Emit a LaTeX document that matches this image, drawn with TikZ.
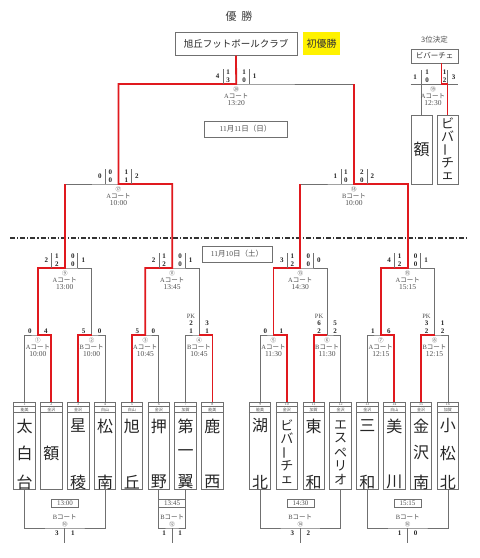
\documentclass[tikz,border=0pt]{standalone}
\usepackage{fontspec}
\usepackage{graphicx}
\setmainfont{Liberation Serif}
\newfontfamily\jp{Noto Sans CJK JP}
\definecolor{lg}{HTML}{707070}
\definecolor{rc}{HTML}{E0191E}
\definecolor{tg}{HTML}{505050}
\newcommand\J[1]{{\jp #1}}
\newcommand\fs[1]{\fontsize{#1}{#1}\selectfont}
\newcommand\bsco[7]{%
 \draw[gl] ([xshift=-13pt]#1) -- ++(0,-15);
 \draw[gl] ([xshift=13pt]#1) -- ++(0,-15);
 \node[sc] (#1lt) at ([xshift=-18.5pt,yshift=8pt]#1) {#2};
 \node[sc] (#1la) at ([xshift=-8pt,yshift=12pt]#1) {#3};
 \node[sc] (#1lb) at ([xshift=-8pt,yshift=4pt]#1) {#4};
 \node[sc] (#1ra) at ([xshift=8pt,yshift=12pt]#1) {#5};
 \node[sc] (#1rb) at ([xshift=8pt,yshift=4pt]#1) {#6};
 \node[sc] (#1rt) at ([xshift=18.5pt,yshift=8pt]#1) {#7};}
\newcommand\rsco[3]{%
 \node[sc] (#1l) at ([xshift=-8pt,yshift=4pt]#1) {#2};
 \node[sc] (#1r) at ([xshift=8pt,yshift=4pt]#1) {#3};}
\newcommand\pksco[5]{%
 \node[lb] (#1p) at ([xshift=-8pt,yshift=19pt]#1) {PK};
 \node[sc] (#1lp) at ([xshift=-8pt,yshift=11.5pt]#1) {#2};
 \node[sc] (#1l) at ([xshift=-8pt,yshift=4pt]#1) {#3};
 \node[sc] (#1rp) at ([xshift=8pt,yshift=11.5pt]#1) {#4};
 \node[sc] (#1r) at ([xshift=8pt,yshift=4pt]#1) {#5};}
\newcommand\jlab[4]{%
 \node[cn] (#1c) at ([yshift=-5pt]#1) {#2};
 \node[lb] (#1k) at ([yshift=-12.5pt]#1) {#3\J{コート}};
 \node[tm] (#1t) at ([yshift=-19.5pt]#1) {#4};}
\begin{document}
\begin{tikzpicture}[x=1pt,y=-1pt,
 gl/.style={draw=lg,line width=0.9pt},
 rl/.style={draw=rc,line width=1.8pt},
 sc/.style={inner sep=0,font=\fs{7}\bfseries,text=black!85},
 lb/.style={inner sep=0,font=\fs{6.5},text=tg},
 tm/.style={inner sep=0,font=\fs{7.5},text=tg},
 cn/.style={inner sep=0,font=\jp\fs{5.5},text=tg},
 teambox/.style={draw=lg,line width=0.8pt,minimum width=21.5pt,minimum height=87pt,inner sep=0},
 nm/.style={inner sep=0,font=\jp\fs{16},text=black!85},
 km/.style={inner sep=0,font=\jp\fs{13},text=black!85},
 tinyn/.style={inner sep=0,font=\fs{4},text=tg},
 tinyj/.style={inner sep=0,font=\jp\fs{4},text=tg},
 tbox/.style={draw=lg,line width=0.8pt,inner sep=0,minimum width=27pt,minimum height=7.5pt,font=\fs{7},text=tg}]
\fill[white] (0,0) rectangle (480,558);
\useasboundingbox (0,0) rectangle (480,558);
% title and champion
\node[inner sep=0,font=\jp\fs{11},text=black!75] (title) at (239,16) {優\hspace{5pt}勝};
\node[draw=lg,line width=1pt,minimum width=122pt,minimum height=23pt,inner sep=0,font=\jp\fs{9.5},text=black!85] (champ) at (236,43.5) {旭丘フットボールクラブ};
\node[fill=yellow,minimum width=37pt,minimum height=23pt,inner sep=0,font=\jp\fs{10},text=black!80] (first) at (321.5,43.5) {初優勝};
% dates
\node[draw=lg,line width=0.8pt,minimum width=83pt,minimum height=16pt,inner sep=0,font=\fs{7.5},text=tg] (D1) at (245.5,129) {11\J{月}11\J{日（日）}};
\node[draw=lg,line width=0.8pt,minimum width=70pt,minimum height=16pt,inner sep=0,font=\fs{7.5},text=tg] (D2) at (237,254) {11\J{月}10\J{日（土）}};
\coordinate (dl) at (10,238);
\coordinate (dr) at (468,238);
\draw[draw=black!80,line width=1.1pt,dash pattern=on 5pt off 2pt on 1.2pt off 2pt] (dl) -- (dr);
% teams
\foreach \i/\rg in {1/能美,2/金沢,3/金沢,4/白山,5/白山,6/金沢,7/加賀,8/能美,9/能美,10/金沢,11/加賀,12/金沢,13/金沢,14/白山,15/金沢,16/加賀}{
 \ifnum\i<9 \pgfmathsetmacro\tx{24.5+26.85*(\i-1)}\else\pgfmathsetmacro\tx{260+26.85*(\i-9)}\fi
 \node[teambox] (T\i) at (\tx,445.8) {};
 \draw[draw=lg,line width=0.6pt] (T\i.north west |- 0,406.7) -- (T\i.north east |- 0,406.7);
 \draw[draw=lg,line width=0.6pt] (T\i.north west |- 0,412.3) -- (T\i.north east |- 0,412.3);
 \node[tinyn] (Tn\i) at (\tx,404.5) {\i};
 \node[tinyj] (Tr\i) at (\tx,409.5) {\rg};
}
\node[nm] (N1a) at (T1.north |- 0,426) {太};
\node[nm] (N1b) at (T1.north |- 0,453) {白};
\node[nm] (N1c) at (T1.north |- 0,482) {台};
\node[nm] (N2a) at (T2.north |- 0,453) {額};
\node[nm] (N3a) at (T3.north |- 0,426) {星};
\node[nm] (N3c) at (T3.north |- 0,482) {稜};
\node[nm] (N4a) at (T4.north |- 0,426) {松};
\node[nm] (N4c) at (T4.north |- 0,482) {南};
\node[nm] (N5a) at (T5.north |- 0,426) {旭};
\node[nm] (N5c) at (T5.north |- 0,482) {丘};
\node[nm] (N6a) at (T6.north |- 0,426) {押};
\node[nm] (N6c) at (T6.north |- 0,482) {野};
\node[nm] (N7a) at (T7.north |- 0,426) {第};
\node[nm] (N7b) at (T7.north |- 0,453) {一};
\node[nm] (N7c) at (T7.north |- 0,482) {翼};
\node[nm] (N8a) at (T8.north |- 0,426) {鹿};
\node[nm] (N8c) at (T8.north |- 0,482) {西};
\node[nm] (N9a) at (T9.north |- 0,426) {湖};
\node[nm] (N9c) at (T9.north |- 0,482) {北};
\node[km] (N10a) at (T10.north |- 0,425) {ビ};
\node[km] (N10b) at (T10.north |- 0,438.5) {バ};
\node[km,rotate=90] (N10c) at (T10.north |- 0,452.5) {ー};
\node[km] (N10d) at (T10.north |- 0,466) {チ};
\node[km] (N10e) at (T10.north |- 0,480) {ェ};
\node[nm] (N11a) at (T11.north |- 0,426) {東};
\node[nm] (N11c) at (T11.north |- 0,482) {和};
\node[km] (N12a) at (T12.north |- 0,425) {エ};
\node[km] (N12b) at (T12.north |- 0,438.5) {ス};
\node[km] (N12c) at (T12.north |- 0,452.5) {ペ};
\node[km] (N12d) at (T12.north |- 0,466) {リ};
\node[km] (N12e) at (T12.north |- 0,480) {オ};
\node[nm] (N13a) at (T13.north |- 0,426) {三};
\node[nm] (N13c) at (T13.north |- 0,482) {和};
\node[nm] (N14a) at (T14.north |- 0,426) {美};
\node[nm] (N14c) at (T14.north |- 0,482) {川};
\node[nm] (N15a) at (T15.north |- 0,426) {金};
\node[nm] (N15b) at (T15.north |- 0,453) {沢};
\node[nm] (N15c) at (T15.north |- 0,482) {南};
\node[nm] (N16a) at (T16.north |- 0,426) {小};
\node[nm] (N16b) at (T16.north |- 0,453) {松};
\node[nm] (N16c) at (T16.north |- 0,482) {北};
% junctions
\coordinate (m1) at (37.925,335); \coordinate (m2) at (91.625,335);
\coordinate (m3) at (145.325,335); \coordinate (m4) at (199.025,335);
\coordinate (m5) at (273.425,335); \coordinate (m6) at (327.125,335);
\coordinate (m7) at (380.825,335); \coordinate (m8) at (434.525,335);
\coordinate (m9) at (64.775,268); \coordinate (m11) at (172.175,268);
\coordinate (m13) at (300.275,268); \coordinate (m15) at (407.675,268);
\coordinate (m17) at (118.475,184); \coordinate (m18) at (353.975,184);
\coordinate (m20) at (236.225,84);
% grey bracket
\draw[gl] (T1.north) |- (m1) -| (T2.north);
\draw[gl] (T3.north) |- (m2) -| (T4.north);
\draw[gl] (T5.north) |- (m3) -| (T6.north);
\draw[gl] (T7.north) |- (m4) -| (T8.north);
\draw[gl] (T9.north) |- (m5) -| (T10.north);
\draw[gl] (T11.north) |- (m6) -| (T12.north);
\draw[gl] (T13.north) |- (m7) -| (T14.north);
\draw[gl] (T15.north) |- (m8) -| (T16.north);
\draw[gl] (m1) |- (m9) -| (m2);
\draw[gl] (m3) |- (m11) -| (m4);
\draw[gl] (m5) |- (m13) -| (m6);
\draw[gl] (m7) |- (m15) -| (m8);
\draw[gl] (m9) |- (m17) -| (m11);
\draw[gl] (m13) |- (m18) -| (m15);
\draw[gl] (m17) |- (m20) -| (m18);
\draw[gl] (m20) -- (champ.south);
% red paths
\draw[rl] (T2.north) |- (m1) |- (m9) -- (m9 |- m17);
\draw[rl] (T3.north) |- (m2);
\draw[rl] (T5.north) |- (m3) |- (m11) |- (m17) |- (m20) -- (champ.south);
\draw[rl] (T8.north) |- (m4);
\draw[rl] (T10.north) |- (m5) |- (m13) -- (m13 |- m18);
\draw[rl] (T11.north) |- (m6);
\draw[rl] (T14.north) |- (m7) |- (m15) |- (m18) -- (m18 |- m20);
\draw[rl] (T15.north) |- (m8);
% scores
\bsco{m20}{4}{1}{3}{1}{0}{1}
\bsco{m17}{0}{0}{0}{1}{1}{2}
\bsco{m18}{1}{1}{0}{2}{0}{2}
\bsco{m9}{2}{1}{2}{0}{0}{1}
\bsco{m11}{2}{1}{2}{0}{0}{1}
\bsco{m13}{3}{1}{2}{0}{0}{0}
\bsco{m15}{4}{1}{2}{0}{0}{1}
\rsco{m1}{0}{4}
\rsco{m2}{5}{0}
\rsco{m3}{5}{0}
\pksco{m4}{2}{1}{3}{1}
\rsco{m5}{0}{1}
\pksco{m6}{6}{2}{5}{2}
\rsco{m7}{1}{6}
\pksco{m8}{3}{2}{1}{2}
% labels
\jlab{m20}{⑳}{A}{13:20}
\jlab{m17}{⑰}{A}{10:00}
\jlab{m18}{⑱}{B}{10:00}
\jlab{m9}{⑨}{A}{13:00}
\jlab{m11}{⑪}{A}{13:45}
\jlab{m13}{⑬}{A}{14:30}
\jlab{m15}{⑮}{A}{15:15}
\jlab{m1}{①}{A}{10:00}
\jlab{m2}{②}{B}{10:00}
\jlab{m3}{③}{A}{10:45}
\jlab{m4}{④}{B}{10:45}
\jlab{m5}{⑤}{A}{11:30}
\jlab{m6}{⑥}{B}{11:30}
\jlab{m7}{⑦}{A}{12:15}
\jlab{m8}{⑧}{B}{12:15}
% consolation matches
\coordinate (m10) at (64.775,528); \coordinate (e10) at (64.775,543);
\coordinate (m12) at (172.175,528); \coordinate (e12) at (172.175,543);
\coordinate (m14) at (300.275,528); \coordinate (e14) at (300.275,543);
\coordinate (m16) at (407.675,528); \coordinate (e16) at (407.675,543);
\draw[gl] (T1.south) |- (m10) -| (T4.south); \draw[gl] (m10) -- (e10);
\draw[gl] (T6.south) |- (m12) -| (T7.south); \draw[gl] (m12) -- (e12);
\draw[gl] (T9.south) |- (m14) -| (T12.south); \draw[gl] (m14) -- (e14);
\draw[gl] (T13.south) |- (m16) -| (T16.south); \draw[gl] (m16) -- (e16);
\node[tbox] (tb10) at (65,503.5) {13:00};
\node[tbox,minimum width=26.85pt] (tb12) at (172.175,503.5) {13:45};
\node[tbox] (tb14) at (300.5,503.5) {14:30};
\node[tbox] (tb16) at (407.5,503.5) {15:15};
\foreach \m/\c/\a/\b in {m10/⑩/3/1,m12/⑫/1/1,m14/⑭/3/2,m16/⑯/1/0}{
 \node[lb] (\m k) at ([yshift=11pt]\m) {B\J{コート}};
 \node[cn] (\m c) at ([yshift=4pt]\m) {\c};
 \node[sc] (\m l) at ([xshift=-8pt,yshift=-5.5pt]\m) {\a};
 \node[sc] (\m r) at ([xshift=8pt,yshift=-5.5pt]\m) {\b};
}
% third place
\node[inner sep=0,font=\jp\fs{7.5},text=tg] (t3) at (434.5,40) {3位決定};
\node[draw=lg,line width=0.8pt,minimum width=47pt,minimum height=14pt,inner sep=0,font=\jp\fs{7.5},text=black!80] (W3) at (434.5,56) {ビバーチェ};
\node[draw=lg,line width=0.8pt,minimum width=21pt,minimum height=69pt,inner sep=0] (B1) at (421.5,149.5) {};
\node[draw=lg,line width=0.8pt,minimum width=21pt,minimum height=69pt,inner sep=0] (B2) at (447.5,149.5) {};
\node[nm] (B1n) at (B1) {額};
\node[km] (B2a) at (B2.north |- 0,123) {ビ};
\node[km] (B2b) at (B2.north |- 0,136.5) {バ};
\node[km,rotate=90] (B2c) at (B2.north |- 0,150) {ー};
\node[km] (B2d) at (B2.north |- 0,163) {チ};
\node[km] (B2e) at (B2.north |- 0,176) {ェ};
\coordinate (m19) at (434.5,84);
\coordinate (l19) at (433,84);
\coordinate (r19) at (441.5,84);
\draw[gl] (B1.north west |- m19) -- (B2.north east |- m19);
\draw[gl] (B1.north |- 0,70) -- (B1.north);
\draw[gl] (B2.north |- 0,70) -- (B2.north |- m19);
\draw[rl] (W3.south -| r19) -- (r19) -| (B2.north);
\node[sc] (s19a) at (415,77) {1};
\node[sc] (s19b) at (427,72) {1};
\node[sc] (s19c) at (427,80) {0};
\node[sc] (s19d) at (444.5,72) {1};
\node[sc] (s19e) at (444.5,80) {2};
\node[sc] (s19f) at (453.5,77) {3};
\jlab{l19}{⑲}{A}{12:30}
\end{tikzpicture}
\end{document}
